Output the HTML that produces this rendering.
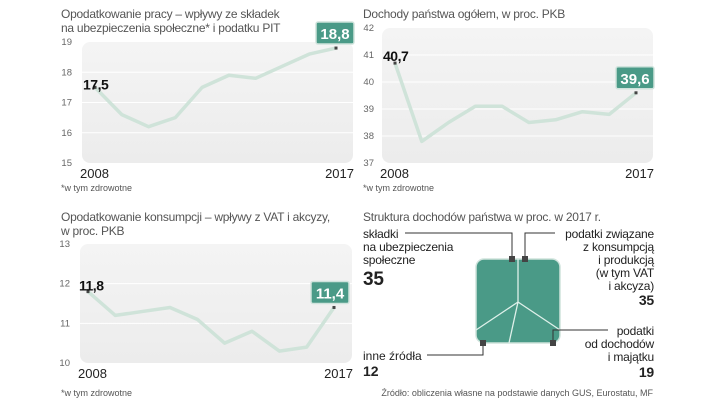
<!DOCTYPE html>
<html><head><meta charset="utf-8"><style>
body{margin:0;background:#fff;width:720px;height:405px;overflow:hidden;font-family:"Liberation Sans",sans-serif;}
svg text{font-family:"Liberation Sans",sans-serif;}
.t{font-size:12px;fill:#555;letter-spacing:-0.25px;}
</style></head><body>
<svg id="s" width="720" height="405" xmlns="http://www.w3.org/2000/svg">
<defs>
<linearGradient id="bg" x1="0" y1="0" x2="0" y2="1"><stop offset="0" stop-color="#f4f4f4"/><stop offset="1" stop-color="#ececec"/></linearGradient>
</defs>
<text x="61" y="18" class="t">Opodatkowanie pracy – wpływy ze składek</text>
<text x="61" y="32" class="t">na ubezpieczenia społeczne* i podatku PIT</text>
<text x="363" y="18" class="t">Dochody państwa ogółem, w proc. PKB</text>
<text x="61" y="221" class="t">Opodatkowanie konsumpcji – wpływy z VAT i akcyzy,</text>
<text x="61" y="235" class="t">w proc. PKB</text>
<text x="61" y="191" font-size="9" fill="#555">*w tym zdrowotne</text>
<text x="363" y="191" font-size="9" fill="#555">*w tym zdrowotne</text>
<text x="61" y="396" font-size="9" fill="#555">*w tym zdrowotne</text>
<text x="363" y="221" class="t">Struktura dochodów państwa w proc. w 2017 r.</text>
<text x="653" y="396" font-size="9" fill="#555" text-anchor="end">Źródło: obliczenia własne na podstawie danych GUS, Eurostatu, MF</text>
<g id="pie">
<rect x="476" y="259" width="84" height="84" rx="8" fill="#4a9a87" stroke="#cfe3dc" stroke-width="1.5"/>
<path d="M518 259 L518 302 M518 302 L476 330 M518 302 L560 330 M518 302 L509 343" stroke="#dff0ea" stroke-width="1.3" fill="none"/>
<path d="M405 233 L512 233 L512 259 M525 259 L525 233 L555 233 M483 343 L483 355 L427 355 M553 340 L553 330 L608 330" stroke="#333" stroke-width="1" fill="none"/>
<rect x="509" y="256" width="6" height="6" fill="#444"/>
<rect x="522" y="256" width="6" height="6" fill="#444"/>
<rect x="480" y="340" width="6" height="6" fill="#444"/>
<rect x="550" y="340" width="6" height="6" fill="#444"/>
<g font-size="12" fill="#222" letter-spacing="-0.2">
<text x="363" y="238">składki</text><text x="363" y="251">na ubezpieczenia</text><text x="363" y="264">społeczne</text>
<text x="363" y="285" font-size="19" font-weight="bold">35</text></g>
<g font-size="12" fill="#222" letter-spacing="-0.2" text-anchor="end">
<text x="654" y="238">podatki związane</text><text x="654" y="251">z konsumpcją</text><text x="654" y="264">i produkcją</text><text x="654" y="277">(w tym VAT</text><text x="654" y="290">i akcyza)</text>
<text x="654" y="305" font-size="14" font-weight="bold">35</text></g>
<g font-size="12" fill="#222" letter-spacing="-0.2" text-anchor="end">
<text x="654" y="335">podatki</text><text x="654" y="348">od dochodów</text><text x="654" y="361">i majątku</text>
<text x="654" y="377" font-size="14" font-weight="bold">19</text></g>
<g font-size="12" fill="#222">
<text x="363" y="360">inne źródła</text>
<text x="363" y="376" font-size="14" font-weight="bold">12</text></g>
</g>
</svg>
<script>
const years = ["2008","2017"];
const labor = [17.5,16.6,16.2,16.5,17.5,17.9,17.8,18.2,18.6,18.8];
const laborTicks = [15,16,17,18,19];
const income = [40.7,37.8,38.5,39.1,39.1,38.5,38.6,38.9,38.8,39.6];
const incomeTicks = [37,38,39,40,41,42];
const consumption = [11.8,11.2,11.3,11.4,11.1,10.5,10.8,10.3,10.4,11.4];
const consumptionTicks = [10,11,12,13];

const NS="http://www.w3.org/2000/svg";
const svg=document.getElementById('s');
function mk(tag,attrs,parent,text){const e=document.createElementNS(NS,tag);for(const k in attrs)e.setAttribute(k,attrs[k]);if(text!==undefined)e.textContent=text;(parent||svg).appendChild(e);return e;}

function chart(id,data,ticks,box,x0,x1,tickX,startLbl,endLbl){
  const g=mk('g',{});
  
  
  const lo=ticks[0],hi=ticks[ticks.length-1];
  const y=v=>box.y1-(v-lo)/(hi-lo)*(box.y1-box.y0);
  const x=i=>x0+i*(x1-x0)/(data.length-1);
  const bg=mk('rect',{x:box.x0,y:box.y0,width:box.x1-box.x0,height:box.y1-box.y0,rx:8,fill:'url(#bg)'},g);
  
  
  ticks.forEach(t=>{
    if(t!==lo&&t!==hi){const l=mk('line',{x1:box.x0,x2:box.x1,y1:y(t),y2:y(t),stroke:'#fff','stroke-width':1},g);
    
    }
    const tx=mk('text',{x:tickX,y:y(t)+3,'font-size':9.5,fill:'#666','text-anchor':'end'},g,String(t));
    
    
  });
  const p=mk('polyline',{points:data.map((v,i)=>x(i)+','+y(v)).join(' '),fill:'none',stroke:'#cfe3d9','stroke-width':3.5,'stroke-linejoin':'round'},g);
  
  
  [0,data.length-1].forEach(i=>{const d=mk('rect',{x:x(i)-1.5,y:y(data[i])-1.5,width:3,height:3,fill:'#444'},g);
    
    });
  const y0t=mk('text',{x:box.x0-2,y:box.y1+15,'font-size':13,fill:'#222'},g,years[0]);
  
  
  const y1t=mk('text',{x:box.x1+1,y:box.y1+15,'font-size':13,fill:'#222','text-anchor':'end'},g,years[1]);
  
  
  const s=mk('text',{x:x(0)+startLbl[0],y:y(data[0])+startLbl[1],'font-size':14,'font-weight':'bold',fill:'#111','letter-spacing':-0.5},g,data[0].toFixed(1).replace('.',','));
  
  
  const ev=data[data.length-1],ey=y(ev)-14,ex=x(data.length-1);
  const eb=mk('rect',{x:ex-20+endLbl,y:ey-12,width:38,height:22,rx:2,fill:'#4a9a87',stroke:'#cfe3dc','stroke-width':1.5},g);
  
  
  const et=mk('text',{x:ex-1+endLbl,y:ey+5,'font-size':15,'font-weight':'bold',fill:'#fff','text-anchor':'middle'},g,ev.toFixed(1).replace('.',','));
  
  
}
chart('chart-labor-tax',labor,laborTicks,{x0:82,x1:353,y0:42,y1:163},95,336,72,[-12,2],0);
chart('chart-total-revenue',income,incomeTicks,{x0:382,x1:653,y0:28,y1:163},395,636,374,[-12,-2],0);
chart('chart-consumption-tax',consumption,consumptionTicks,{x0:80,x1:352,y0:244,y1:363},88,334,70,[-9,-1],-3);
</script>
</body></html>
